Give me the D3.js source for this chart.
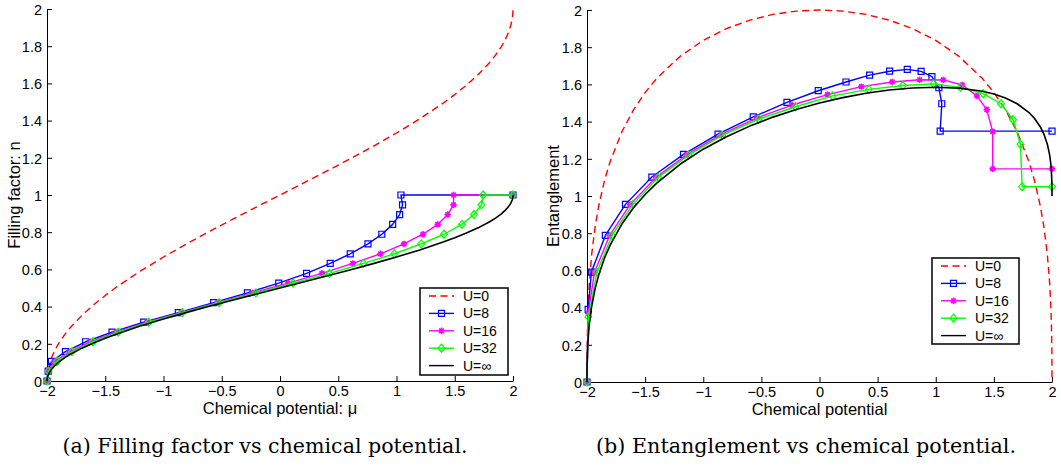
<!DOCTYPE html>
<html><head><meta charset="utf-8">
<script src="https://cdn.jsdelivr.net/npm/d3@7/dist/d3.min.js"></script>
<style>
html,body{margin:0;padding:0;background:#fff;}
svg{display:block;}
.tick text{font-family:"Liberation Sans",Arial,sans-serif;font-size:14.5px;fill:#000;}
</style></head>
<body><svg id="chart" width="1061" height="470"></svg>
<script>
// ---------- data ----------
const seriesNames = ["U=0", "U=8", "U=16", "U=32", "U=\u221e"];
const xTicks = [-2, -1.5, -1, -0.5, 0, 0.5, 1, 1.5, 2];
const yTicks = [0, 0.2, 0.4, 0.6, 0.8, 1, 1.2, 1.4, 1.6, 1.8, 2];
const xTickLabels = ["\u22122", "\u22121.5", "\u22121", "\u22120.5", "0", "0.5", "1", "1.5", "2"];
const yTickLabels = ["0", "0.2", "0.4", "0.6", "0.8", "1", "1.2", "1.4", "1.6", "1.8", "2"];

// smooth curves (U=0 and U=inf)
const muGrid = [-2, -1.999, -1.995, -1.99, -1.98, -1.96, -1.93, -1.9, -1.85, -1.8, -1.7, -1.6, -1.5, -1.4, -1.2, -1, -0.8, -0.6, -0.4, -0.2, 0, 0.2, 0.4, 0.6, 0.8, 1, 1.2, 1.4, 1.5, 1.6, 1.7, 1.8, 1.85, 1.9, 1.93, 1.96, 1.98, 1.99, 1.995, 1.999, 2];
const fillingU0 = [0, 0.0202, 0.0450, 0.0637, 0.0901, 0.1275, 0.1689, 0.2022, 0.2482, 0.2871, 0.3532, 0.4097, 0.4601, 0.5064, 0.5903, 0.6667, 0.7380, 0.8060, 0.8718, 0.9362, 1, 1.0638, 1.1282, 1.1940, 1.2620, 1.3333, 1.4097, 1.4936, 1.5399, 1.5903, 1.6468, 1.7129, 1.7518, 1.7978, 1.8311, 1.8725, 1.9099, 1.9363, 1.9550, 1.9799, 2];
const fillingInf = [0, 0.0101, 0.0225, 0.0318, 0.0451, 0.0638, 0.0845, 0.1011, 0.1241, 0.1436, 0.1766, 0.2048, 0.2301, 0.2532, 0.2952, 0.3333, 0.3690, 0.4030, 0.4359, 0.4681, 0.5, 0.5319, 0.5641, 0.5970, 0.6310, 0.6667, 0.7048, 0.7468, 0.7699, 0.7952, 0.8234, 0.8564, 0.8759, 0.8989, 0.9155, 0.9362, 0.9550, 0.9682, 0.9775, 0.9899, 1];
const entU0 = [0, 0.1625, 0.3106, 0.4071, 0.5299, 0.6845, 0.8353, 0.9448, 1.0820, 1.1870, 1.3452, 1.4631, 1.5562, 1.6326, 1.7506, 1.8366, 1.8999, 1.9454, 1.9763, 1.9942, 2, 1.9942, 1.9763, 1.9454, 1.8999, 1.8366, 1.7506, 1.6326, 1.5562, 1.4631, 1.3452, 1.1870, 1.0820, 0.9448, 0.8353, 0.6845, 0.5299, 0.4071, 0.3106, 0.1625, 0];
const entInf = [0, 0.0913, 0.1778, 0.2354, 0.3100, 0.4060, 0.5021, 0.5735, 0.6651, 0.7371, 0.8492, 0.9364, 1.0082, 1.0695, 1.1705, 1.2516, 1.3189, 1.3757, 1.4241, 1.4652, 1.5, 1.5290, 1.5523, 1.5697, 1.5809, 1.5850, 1.5801, 1.5631, 1.5481, 1.5267, 1.4960, 1.4500, 1.4169, 1.3713, 1.3332, 1.2785, 1.2199, 1.1717, 1.1328, 1.0712, 1];

// finite-U data (marker series)
const muU8  = [-2, -1.99, -1.962, -1.842, -1.669, -1.442, -1.17, -0.873, -0.57, -0.28, -0.011, 0.228, 0.431, 0.603, 0.755, 0.874, 0.967, 1.027, 1.052, 1.038, 2];
const muU16 = [-2, -1.99, -1.935, -1.805, -1.628, -1.407, -1.142, -0.848, -0.537, -0.236, 0.07, 0.36, 0.625, 0.862, 1.064, 1.227, 1.354, 1.439, 1.49, 1.49, 2];
const muU32 = [-2, -1.988, -1.914, -1.785, -1.605, -1.388, -1.126, -0.838, -0.522, -0.207, 0.113, 0.425, 0.717, 0.982, 1.212, 1.408, 1.561, 1.665, 1.729, 1.743, 2];
const fillingSteps = [0, 0.053, 0.105, 0.158, 0.211, 0.263, 0.316, 0.368, 0.421, 0.474, 0.526, 0.579, 0.632, 0.684, 0.737, 0.789, 0.842, 0.895, 0.947, 1, 1];
const entU8  = [0, 0.39, 0.591, 0.788, 0.955, 1.102, 1.224, 1.333, 1.425, 1.503, 1.566, 1.613, 1.65, 1.671, 1.681, 1.67, 1.642, 1.582, 1.496, 1.349, 1.349];
const entU16 = [0, 0.37, 0.591, 0.788, 0.955, 1.1, 1.222, 1.33, 1.42, 1.489, 1.545, 1.588, 1.613, 1.625, 1.624, 1.597, 1.538, 1.464, 1.346, 1.146, 1.146];
const entU32 = [0, 0.35, 0.591, 0.788, 0.955, 1.1, 1.22, 1.326, 1.414, 1.48, 1.538, 1.573, 1.594, 1.603, 1.584, 1.55, 1.496, 1.41, 1.277, 1.05, 1.05];

const colors = ["#ff0000", "#0000ff", "#ff00ff", "#00ff00", "#000000"];
const markers = [null, "square", "star", "diamond", null];

// ---------- drawing ----------
const svg = d3.select("#chart");
const FONT = '"Liberation Sans", Arial, sans-serif';

function markerPath(type) {
  if (type === "square") { const s = 3; return `M${-s},${-s}H${s}V${s}H${-s}Z`; }
  if (type === "diamond") { const w = 3.4, h = 4; return `M0,${-h}L${w},0L0,${h}L${-w},0Z`; }
  if (type === "star") { const r = 3.2, d = 2.3; return `M${-r},0H${r}M0,${-r}V${r}M${-d},${-d}L${d},${d}M${-d},${d}L${d},${-d}`; }
  return "";
}

function panel(cfg) {
  const x = d3.scaleLinear().domain([-2, 2]).range(cfg.xr);
  const y = d3.scaleLinear().domain([0, 2]).range(cfg.yr);
  const g = svg.append("g");

  const xa = d3.axisBottom(x).tickValues(xTicks).tickFormat((d, i) => xTickLabels[i]).tickSizeInner(-5).tickSizeOuter(0).tickPadding(5);
  const ya = d3.axisLeft(y).tickValues(yTicks).tickFormat((d, i) => yTickLabels[i]).tickSizeInner(-5).tickSizeOuter(0).tickPadding(5);
  const gx = g.append("g").attr("transform", `translate(0,${cfg.yr[0]})`).call(xa);
  const gy = g.append("g").attr("transform", `translate(${cfg.xr[0]},0)`).call(ya);
  [gx, gy].forEach(a => { a.selectAll("path,line").attr("stroke", "#000").attr("stroke-width", 1); a.selectAll("text").style("font-family", FONT).style("font-size", "14.5px"); });
  gy.selectAll("text").attr("dy", "0.36em");

  const line = d3.line().x(d => x(d[0])).y(d => y(d[1]));
  cfg.series.forEach((s, i) => {
    const pts = s.mu.map((m, j) => [m, s.v[j]]);
    g.append("path").attr("d", line(pts)).attr("fill", "none")
      .attr("stroke", colors[i]).attr("stroke-width", i === 4 ? 1.6 : 1.4)
      .attr("stroke-dasharray", i === 0 ? "7,4.5" : null).attr("stroke-linejoin", "round");
    if (markers[i]) {
      g.append("g").selectAll("path").data(pts).join("path")
        .attr("transform", d => `translate(${x(d[0])},${y(d[1])})`)
        .attr("d", markerPath(markers[i])).attr("fill", "none")
        .attr("stroke", colors[i]).attr("stroke-width", markers[i] === "star" ? 1.6 : 1.2);
    }
  });

  // axis titles
  g.append("text").attr("x", (cfg.xr[0] + cfg.xr[1]) / 2 + cfg.xtDx).attr("y", cfg.yr[0] + 33)
    .attr("text-anchor", "middle").style("font-family", FONT).style("font-size", "16.5px").text(cfg.xTitle);
  g.append("text").attr("transform", `translate(${cfg.ytX},${(cfg.yr[0] + cfg.yr[1]) / 2}) rotate(-90)`)
    .attr("text-anchor", "middle").style("font-family", FONT).style("font-size", "16.5px").text(cfg.yTitle);

  // legend
  const L = cfg.legend;
  const lg = g.append("g").attr("transform", `translate(${L.x},${L.y})`);
  lg.append("rect").attr("width", L.w).attr("height", L.h).attr("fill", "#fff").attr("stroke", "#000").attr("stroke-width", 1.5);
  seriesNames.forEach((nm, i) => {
    const yy = 8 + i * 17.4;
    lg.append("line").attr("x1", 9).attr("x2", 34).attr("y1", yy).attr("y2", yy)
      .attr("stroke", colors[i]).attr("stroke-width", 1.4).attr("stroke-dasharray", i === 0 ? "7,4.5" : null);
    if (markers[i]) lg.append("path").attr("transform", `translate(21.5,${yy})`).attr("d", markerPath(markers[i]))
      .attr("fill", "none").attr("stroke", colors[i]).attr("stroke-width", markers[i] === "star" ? 1.6 : 1.2);
    lg.append("text").attr("x", 43).attr("y", yy).attr("dy", "0.36em")
      .style("font-family", FONT).style("font-size", "14px").text(nm);
  });

  // caption
  svg.append("text").attr("x", cfg.capX).attr("y", 453).attr("text-anchor", "middle")
    .attr("textLength", cfg.capW).attr("lengthAdjust", "spacingAndGlyphs")
    .style("font-family", '"DejaVu Serif", serif').style("font-size", "20px").text(cfg.caption);
}

panel({
  xr: [47, 513], yr: [381, 9], xtDx: 0, ytX: 20,
  xTitle: "Chemical potential: \u03bc", yTitle: "Filling factor: n",
  series: [
    { mu: muGrid, v: fillingU0 }, { mu: muU8, v: fillingSteps }, { mu: muU16, v: fillingSteps },
    { mu: muU32, v: fillingSteps }, { mu: muGrid, v: fillingInf }
  ],
  legend: { x: 420, y: 288, w: 88, h: 87 },
  capX: 265, capW: 405, caption: "(a) Filling factor vs chemical potential."
});
panel({
  xr: [587, 1052], yr: [382, 10], xtDx: 0, ytX: 559,
  xTitle: "Chemical potential", yTitle: "Entanglement",
  series: [
    { mu: muGrid, v: entU0 }, { mu: muU8, v: entU8 }, { mu: muU16, v: entU16 },
    { mu: muU32, v: entU32 }, { mu: muGrid, v: entInf }
  ],
  legend: { x: 932, y: 258, w: 87, h: 86 },
  capX: 806, capW: 420, caption: "(b) Entanglement vs chemical potential."
});
</script></body></html>
